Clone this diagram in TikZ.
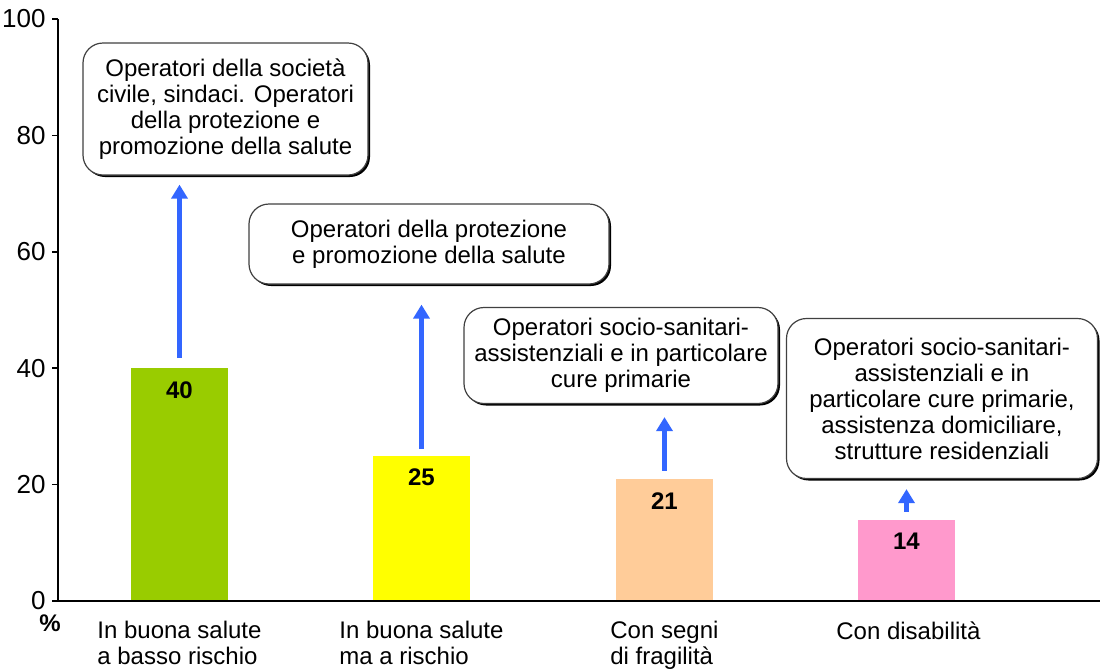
\documentclass[tikz,border=0pt]{standalone}
\usepackage{fontspec}
\setmainfont{Liberation Sans}
\usetikzlibrary{arrows.meta,shadows}
\definecolor{barA}{HTML}{99CC00}
\definecolor{barB}{HTML}{FFFF00}
\definecolor{barC}{HTML}{FFCC99}
\definecolor{barD}{HTML}{FF99CC}
\definecolor{arrowblue}{HTML}{3366FF}

\begin{document}
\begin{tikzpicture}[x=0.5pt,y=-0.5pt,
txt/.style = {font=\fontsize{12}{13}\selectfont},
note/.style = {txt, draw=black!75, line width=0.6pt, rounded corners=10pt, fill=white,
    align=center, inner sep=2pt,
    drop shadow={shadow xshift=1pt, shadow yshift=-1pt, opacity=1, fill=black}},
bar/.style = {anchor=south west, minimum width=48.5pt, inner sep=0pt, outer sep=0pt},
cat/.style = {txt, anchor=north west, align=left, inner sep=0pt},
axis/.style = {draw=black, line width=0.8pt},
up/.style = {draw=arrowblue, line width=2.5pt, -{Triangle[length=7pt,width=8pt]}}]
\useasboundingbox (0,0) rectangle (1100,670);
\foreach \i/\x/\v/\c in {1/131/40/barA, 2/373/25/barB, 3/616/21/barC, 4/858/14/barD} {
    \node[bar, fill=\c, minimum height=\v*2.91pt] (b\i) at (\x,601) {};
    \node[txt] (v\i) at ([yshift=-11pt]b\i.north) {\textbf{\v}};
}
\foreach \v in {0,20,...,100} {
    \draw[axis] (52,{601-5.82*\v}) -- (58,{601-5.82*\v});
    \node[font=\fontsize{13}{14}\selectfont, anchor=east, inner sep=0pt] (t\v) at (46,{601-5.82*\v}) {\v};
}
\draw[axis] (58,19) -- (58,601);
\draw[axis] (52,601) -- (1100,601);
\node[txt, inner sep=0pt] (pct) at (50,623) {\textbf{\%}};
\node[note, minimum width=142.5pt, minimum height=66pt] (n1) at (225.5,109)
    {Operatori della società\\civile, sindaci. Operatori\\della protezione e\\promozione della salute};
\node[note, minimum width=180pt, minimum height=40pt] (n2) at (429,244)
    {Operatori della protezione\\e promozione della salute};
\node[note, minimum width=157pt, minimum height=48pt] (n3) at (621,355.5)
    {Operatori socio-sanitari-\\assistenziali e in particolare\\cure primarie};
\node[note, minimum width=155.5pt, minimum height=80pt] (n4) at (942,398.5)
    {Operatori socio-sanitari-\\assistenziali e in\\particolare cure primarie,\\assistenza domiciliare,\\strutture residenziali};
\draw[up, shorten <=5pt, shorten >=4.5pt] (b1.north) -- (b1.north |- n1.south);
\draw[up, shorten <=3.5pt, shorten >=10pt] (b2.north) -- (b2.north |- n2.south);
\draw[up, shorten <=4pt, shorten >=6.5pt] (b3.north) -- (b3.north |- n3.south);
\draw[up, shorten <=4pt, shorten >=5pt] (b4.north) -- (b4.north |- n4.south);
\node[cat] (c1) at (97,621) {In buona salute\\a basso rischio};
\node[cat] (c2) at (339,621) {In buona salute\\ma a rischio};
\node[cat] (c3) at (610,621) {Con segni\\di fragilità};
\node[cat] (c4) at (836,621) {Con disabilità};
\end{tikzpicture}
\end{document}
